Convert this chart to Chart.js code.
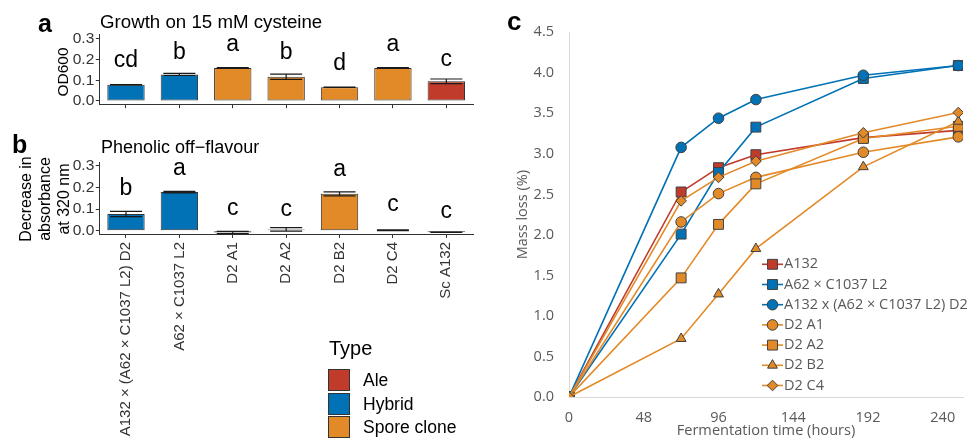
<!DOCTYPE html>
<html><head><meta charset="utf-8">
<script src="https://cdn.jsdelivr.net/npm/chart.js@4/dist/chart.umd.min.js"></script>
<style>
html,body{margin:0;padding:0;background:#fff;}
body{width:971px;height:439px;position:relative;overflow:hidden;font-family:"Liberation Sans",Arial,sans-serif;color:#000;}
.abs{position:absolute;white-space:nowrap;}
.box{position:absolute;}
.rot{position:absolute;white-space:nowrap;transform:translate(-50%,-50%) rotate(-90deg);text-align:center;}
.key{position:absolute;width:22px;height:22px;box-sizing:border-box;border:1px solid #333;}
</style></head><body>
<div class="box" style="left:0;top:0;width:480px;height:115px"><canvas id="ca"></canvas></div>
<div class="box" style="left:0;top:150px;width:480px;height:289px"><canvas id="cb"></canvas></div>
<div class="box" style="left:500px;top:0;width:471px;height:439px"><canvas id="cc"></canvas></div>

<div class="abs" style="left:38px;top:11px;font-size:25px;line-height:25px;font-weight:bold">a</div>
<div class="abs" style="left:12px;top:132px;font-size:25px;line-height:25px;font-weight:bold">b</div>
<div class="abs" style="left:507px;top:8px;font-size:26px;line-height:26px;font-weight:bold">c</div>
<div class="abs" style="left:100px;top:12.5px;font-size:18.7px;line-height:18.7px">Growth on 15 mM cysteine</div>
<div class="abs" style="left:101px;top:138px;font-size:18px;line-height:18px">Phenolic off−flavour</div>
<div class="rot" style="left:63px;top:71.5px;font-size:15.5px;line-height:18px">OD600</div>
<div class="rot" style="left:44px;top:199px;font-size:16px;line-height:19px">Decrease in<br>absorbance<br>at 320 nm</div>

<div class="abs" style="left:329px;top:338px;font-size:20px;line-height:20px">Type</div>
<div id="typeLegend"></div>

<script>
// ---------- data: panels a and b ----------
const categories = ["A132 × (A62 × C1037 L2) D2","A62 × C1037 L2","D2 A1","D2 A2","D2 B2","D2 C4","Sc A132"];
const strainType = ["Hybrid","Hybrid","Spore clone","Spore clone","Spore clone","Spore clone","Ale"];
const typeNames = ["Ale","Hybrid","Spore clone"];
const typeColors = ["#C13B2B","#0072B5","#E38A28"];

const growthOD600 = [0.078,0.128,0.159,0.117,0.066,0.159,0.095];
const growthSE    = [0.001,0.005,0.002,0.013,0.001,0.002,0.011];
const growthLetters = ["cd","b","a","b","d","a","c"];
const growthLetterY = [0.194,0.235,0.272,0.235,0.179,0.272,0.202];

const pofDecrease = [0.077,0.178,-0.008,0.006,0.170,0.002,-0.007];
const pofSE       = [0.012,0.003,0.005,0.008,0.009,0.002,0.001];
const pofLetters  = ["b","a","c","c","a","c","c"];
const pofLetterY  = [0.196,0.288,0.103,0.096,0.280,0.119,0.088];

const barTicks = [0,0.1,0.2,0.3];

// ---------- data: panel c ----------
const timeHours = [0,72,96,120,189,250];
const seriesNames = ["A132","A62 × C1037 L2","A132 x (A62 × C1037 L2) D2","D2 A1","D2 A2","D2 B2","D2 C4"];
const massA132      = [0,2.53,2.83,2.99,3.20,3.29];
const massA62C1037  = [0,2.01,2.77,3.33,3.93,4.09];
const massA132xD2   = [0,3.08,3.44,3.67,3.97,4.09];
const massD2A1      = [0,2.16,2.51,2.71,3.02,3.21];
const massD2A2      = [0,1.47,2.13,2.63,3.19,3.34];
const massD2B2      = [0,0.72,1.27,1.83,2.84,3.40];
const massD2C4      = [0,2.42,2.71,2.91,3.26,3.51];
const timeTicks = [0,48,96,144,192,240];
const massTicks = [0,0.5,1.0,1.5,2.0,2.5,3.0,3.5,4.0,4.5];

// ---------- type legend ----------
(function(){
  const lg = document.getElementById('typeLegend');
  typeNames.forEach((n,i)=>{
    const k = document.createElement('div'); k.className='key';
    k.style.left='328px'; k.style.top=(369+i*23.5)+'px'; k.style.background=typeColors[i];
    lg.appendChild(k);
    const t = document.createElement('div'); t.className='abs';
    t.style.left='363px'; t.style.top=(369+i*23.5)+'px'; t.style.fontSize='17.5px'; t.style.lineHeight='22px';
    t.textContent=n; lg.appendChild(t);
  });
})();

const colorOf = t => typeColors[typeNames.indexOf(t)];
const SANS = "'Liberation Sans', Arial, sans-serif";

const barExtras = {
  id:'barExtras',
  afterDatasetsDraw(chart, args, opts){
    const ctx = chart.ctx, xs = chart.scales.x, ys = chart.scales.y;
    const meta = chart.getDatasetMeta(0);
    const catW = xs.width / categories.length;
    ctx.save();
    ctx.strokeStyle = '#1a1a1a'; ctx.lineWidth = 1.2;
    opts.values.forEach((v,i)=>{
      const x = meta.data[i].x;
      const yt = ys.getPixelForValue(v + opts.se[i]);
      const yb = ys.getPixelForValue(v - opts.se[i]);
      const hw = catW*0.3;
      ctx.beginPath();
      ctx.moveTo(x-hw, yt); ctx.lineTo(x+hw, yt);
      ctx.moveTo(x, yt); ctx.lineTo(x, yb);
      ctx.moveTo(x-hw, yb); ctx.lineTo(x+hw, yb);
      ctx.stroke();
    });
    ctx.fillStyle = '#000';
    ctx.font = "23px " + SANS;
    ctx.textAlign = 'center'; ctx.textBaseline = 'middle';
    opts.letters.forEach((l,i)=>{
      ctx.fillText(l, meta.data[i].x, ys.getPixelForValue(opts.letterY[i]));
    });
    ctx.restore();
  }
};

function barChart(id, values, se, letters, letterY, yMin, yMax, padTop, xHeight, showLabels){
  return new Chart(document.getElementById(id), {
    type:'bar',
    data:{ labels: categories, datasets:[{
      data: values,
      backgroundColor: strainType.map(colorOf),
      borderColor:'#333', borderWidth:1, borderSkipped:false,
      barPercentage:0.7, categoryPercentage:1
    }]},
    options:{
      responsive:true, maintainAspectRatio:false, animation:false,
      layout:{padding:{top:padTop, right:7, left:0, bottom:0}},
      plugins:{legend:{display:false}, tooltip:{enabled:false},
        barExtras:{values, se, letters, letterY}},
      scales:{
        x:{ offset:true,
          grid:{display:true, offset:false, drawOnChartArea:false, drawTicks:true, tickLength:4, color:'#333'},
          border:{display:true, color:'#333', width:1},
          ticks:{display:showLabels, autoSkip:false, maxRotation:90, minRotation:90, padding:4,
                 color:'#333', font:{family:SANS, size:15}},
          afterFit(s){ s.height = xHeight; }
        },
        y:{ min:yMin, max:yMax,
          afterBuildTicks(s){ s.ticks = barTicks.map(v=>({value:v})); },
          grid:{display:true, drawOnChartArea:false, drawTicks:true, tickLength:3.5, color:'#333'},
          border:{display:true, color:'#333', width:1},
          ticks:{padding:1.5, color:'#333', font:{family:SANS, size:15.5}, callback:v=>Number(v).toFixed(1)},
          afterFit(s){ s.width = 99.3; }
        }
      }
    },
    plugins:[barExtras]
  });
}

barChart('ca', growthOD600, growthSE, growthLetters, growthLetterY, -0.016, 0.32, 34.8, 8.3, false);
barChart('cb', pofDecrease, pofSE, pofLetters, pofLetterY, -0.015, 0.315, 12.4, 205, true);

// ---------- panel c ----------
const RED="#C13B2B", BLUE="#0072B5", ORANGE="#E38A28";
const cSeries = [
  {name:seriesNames[0], vals:massA132,     color:RED,    style:'rect',     r:7},
  {name:seriesNames[1], vals:massA62C1037, color:BLUE,   style:'rect',     r:7},
  {name:seriesNames[2], vals:massA132xD2,  color:BLUE,   style:'circle',   r:5.3},
  {name:seriesNames[3], vals:massD2A1,     color:ORANGE, style:'circle',   r:5.3},
  {name:seriesNames[4], vals:massD2A2,     color:ORANGE, style:'rect',     r:7},
  {name:seriesNames[5], vals:massD2B2,     color:ORANGE, style:'triangle', r:5.7},
  {name:seriesNames[6], vals:massD2C4,     color:ORANGE, style:'rectRot',  r:5.3}
];
const GREY = '#595959';
const OPEN = "'Open Sans', 'Noto Sans', sans-serif";

function drawMarker(ctx, style, r, x, y){
  ctx.beginPath();
  if(style==='circle'){ ctx.arc(x,y,r,0,Math.PI*2); }
  else if(style==='rect'){ const s=r*Math.SQRT1_2; ctx.rect(x-s,y-s,2*s,2*s); }
  else if(style==='triangle'){
    ctx.moveTo(x, y-r); ctx.lineTo(x+r*Math.sin(2*Math.PI/3), y-r*Math.cos(2*Math.PI/3));
    ctx.lineTo(x-r*Math.sin(2*Math.PI/3), y-r*Math.cos(2*Math.PI/3)); ctx.closePath();
  }
  else if(style==='rectRot'){ ctx.moveTo(x,y-r); ctx.lineTo(x+r,y); ctx.lineTo(x,y+r); ctx.lineTo(x-r,y); ctx.closePath(); }
  ctx.fill(); ctx.stroke();
}

const lineLegend = {
  id:'lineLegend',
  afterDraw(chart){
    const ctx = chart.ctx;
    ctx.save();
    cSeries.forEach((s,i)=>{
      const y = 264.3 + i*20.2, x0 = 262;
      ctx.strokeStyle = s.color; ctx.lineWidth = 1.6;
      ctx.beginPath(); ctx.moveTo(x0,y); ctx.lineTo(x0+21,y); ctx.stroke();
      ctx.fillStyle = s.color; ctx.strokeStyle = '#404040'; ctx.lineWidth = 1;
      drawMarker(ctx, s.style, s.r, x0+10.5, y);
      ctx.fillStyle = GREY; ctx.font = "14.5px " + OPEN;
      ctx.textAlign='left'; ctx.textBaseline='middle';
      ctx.fillText(s.name, x0+22, y);
    });
    ctx.restore();
  }
};

new Chart(document.getElementById('cc'), {
  type:'line',
  data:{ datasets: cSeries.map((s,i)=>({
    label:s.name,
    data: timeHours.map((t,j)=>({x:t, y:s.vals[j]})),
    borderColor:s.color, backgroundColor:s.color, borderWidth:1.6,
    pointStyle:s.style, pointRadius:s.r, pointBackgroundColor:s.color,
    pointBorderColor:'#404040', pointBorderWidth:1, tension:0,
    order: cSeries.length - 1 - i
  }))},
  options:{
    responsive:true, maintainAspectRatio:false, animation:false,
    layout:{padding:{top:32.3, right:4, left:0, bottom:0}},
    plugins:{legend:{display:false}, tooltip:{enabled:false}},
    scales:{
      x:{ type:'linear', min:0, max:253,
        afterBuildTicks(s){ s.ticks = timeTicks.map(v=>({value:v})); },
        grid:{display:false, drawTicks:false},
        border:{display:true, color:'#d9d9d9', width:1},
        ticks:{padding:12.3, color:GREY, font:{family:OPEN, size:14.5}},
        title:{display:true, text:'Fermentation time (hours)', color:GREY, font:{family:OPEN, size:14.6}, padding:{top:0,bottom:-1}},
        afterFit(s){ s.height = 42; }
      },
      y:{ min:0, max:4.5,
        afterBuildTicks(s){ s.ticks = massTicks.map(v=>({value:v})); },
        grid:{display:false, drawTicks:false},
        border:{display:true, color:'#d9d9d9', width:1},
        ticks:{padding:15, color:GREY, font:{family:OPEN, size:14.5}, callback:v=>Number(v).toFixed(1)},
        title:{display:true, text:'Mass loss (%)', color:GREY, font:{family:OPEN, size:14.5}, padding:{top:14.3,bottom:0}},
        afterFit(s){ s.width = 69; }
      }
    }
  },
  plugins:[lineLegend]
});
</script>
</body></html>
